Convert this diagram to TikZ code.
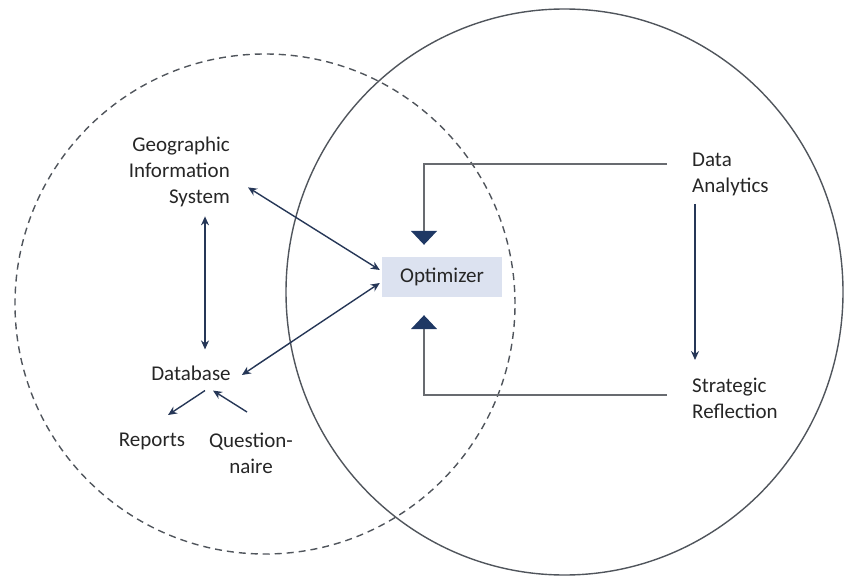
\documentclass[tikz,border=0pt]{standalone}
\usepackage{fontspec}
\setmainfont{Carlito}
\usetikzlibrary{arrows.meta,calc}
\definecolor{navy}{HTML}{1F3864}
\definecolor{arrnavy}{HTML}{263757}
\definecolor{txt}{HTML}{262626}
\definecolor{ringgray}{HTML}{50555C}
\definecolor{fbgray}{HTML}{686B70}
\definecolor{optfill}{HTML}{DCE2F0}
\tikzset{
  lbl/.style={inner sep=0pt, text=txt, font=\fontsize{21}{26}\selectfont},
  optbox/.style={fill=optfill, minimum width=120pt, minimum height=40pt, inner sep=0pt, text=txt, font=\fontsize{21}{26}\selectfont},
  dbl/.style={arrnavy, line width=1.4pt, {Stealth[length=9pt,width=8pt]}-{Stealth[length=9pt,width=8pt]}},
  sgl/.style={arrnavy, line width=1.4pt, -{Stealth[length=9pt,width=8pt]}},
  fb/.style={fbgray, line width=1.7pt, -{Triangle[width=26pt,length=14pt,color=navy]}},
  ring/.style={ringgray, line width=1.4pt},
}
\begin{document}
\begin{tikzpicture}[x=1pt,y=-1pt]
\useasboundingbox (0,0) rectangle (845,577);
% circles
\draw[ring, dash pattern=on 7pt off 5pt] (265,304) circle (250pt);
\draw[ring] (564.5,292) ellipse [x radius=278.5pt, y radius=283pt];
% nodes
\node[optbox] (opt) at (442,277) {Optimizer};
\node[lbl, align=right, anchor=north east] (gis) at (230,137) {Geographic\\Information\\System};
\node[lbl] (db) at (191,373) {Database};
\node[lbl, anchor=north] (rep) at (152,433) {Reports};
\node[lbl, align=center, anchor=north] (qn) at (251,433) {Question-\\naire};
\node[lbl, align=left, anchor=north west] (da) at (692,153) {Data\\Analytics};
\node[lbl, align=left, anchor=north west] (sr) at (692,378) {Strategic\\Reflection};
% connectors
\draw[dbl] ([xshift=18pt,yshift=20pt]gis.south east) -- ([xshift=-2pt,yshift=7pt]opt.west);
\draw[dbl] ([xshift=-25pt,yshift=-9pt]gis.south east) -- ([xshift=14pt,yshift=16pt]db.north);
\draw[dbl] ([xshift=11pt,yshift=-2pt]db.east) -- ([xshift=-2pt,yshift=-6pt]opt.west);
\draw[sgl] ([xshift=14pt,yshift=-10pt]db.south) -- ([xshift=16pt,yshift=18pt]rep.north);
\draw[sgl] ([xshift=-4pt,yshift=21pt]qn.north) -- ([xshift=22pt,yshift=-10pt]db.south);
\draw[sgl] ([xshift=3pt,yshift=-7.5pt]da.south west) -- ([xshift=3pt,yshift=18pt]sr.north west);
\draw[fb] ([xshift=-25pt,yshift=-11pt]da.north west) -| ([xshift=-18pt,yshift=12pt]opt.north);
\draw[fb] ([xshift=-25pt,yshift=-17pt]sr.north west) -| ([xshift=-18pt,yshift=-18pt]opt.south);
\end{tikzpicture}
\end{document}
